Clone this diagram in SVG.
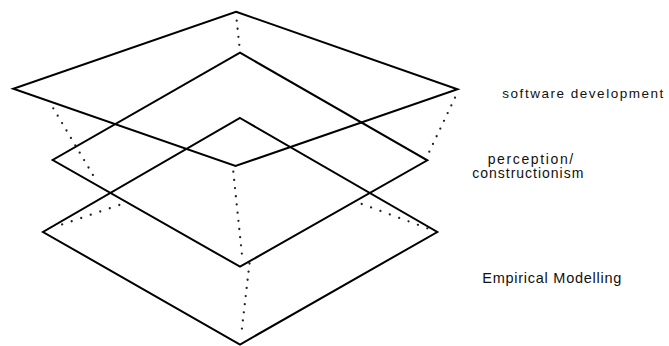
<svg xmlns="http://www.w3.org/2000/svg" width="669" height="346" viewBox="0 0 669 346">
<style>
.plane{fill:none;stroke:#000;stroke-width:2;stroke-linejoin:miter}
.dot{fill:none;stroke:#222;stroke-width:2.3;stroke-linecap:round}
.lbl{font-family:"Liberation Sans",Arial,sans-serif;fill:#111}
</style>
<rect width="669" height="346" fill="#fff"/>
<g id="connectors">
<line class="dot" x1="236.7" y1="20.7" x2="239.3" y2="45" stroke-dasharray="0 8.1"/>
<line class="dot" x1="53.3" y1="108.3" x2="97.3" y2="182.3" stroke-dasharray="0 8.61"/>
<line class="dot" x1="455" y1="97.7" x2="429.3" y2="151.7" stroke-dasharray="0 8.54"/>
<line class="dot" x1="119.3" y1="205" x2="52.7" y2="227.7" stroke-dasharray="0 10.06"/>
<line class="dot" x1="361.7" y1="204" x2="427.3" y2="228.3" stroke-dasharray="0 9.99"/>
<line class="dot" x1="233.3" y1="171.7" x2="242.7" y2="261.7" stroke-dasharray="0 8.23"/>
<line class="dot" x1="249.5" y1="263.5" x2="241" y2="336.7" stroke-dasharray="0 8.19"/>
</g>
<g id="software-development">
<polygon class="plane" points="236,11.7 457.5,89.3 235.5,166 13.3,88.7"/>
<text class="lbl" x="502.3" y="98.3" font-size="13.5" textLength="161" lengthAdjust="spacing">software development</text>
</g>
<g id="perception-constructionism">
<polygon class="plane" points="240,52.7 427.3,160.3 240,266.7 52.7,160"/>
<text class="lbl" x="487.7" y="164" font-size="14" textLength="85.5" lengthAdjust="spacing">perception/</text>
<text class="lbl" x="472.3" y="178.3" font-size="14" textLength="111" lengthAdjust="spacing">constructionism</text>
</g>
<g id="empirical-modelling">
<polygon class="plane" points="240,118 437.3,232 240,344.5 43,232"/>
<text class="lbl" x="482.3" y="283.3" font-size="14.5" textLength="139" lengthAdjust="spacing">Empirical Modelling</text>
</g>
</svg>
